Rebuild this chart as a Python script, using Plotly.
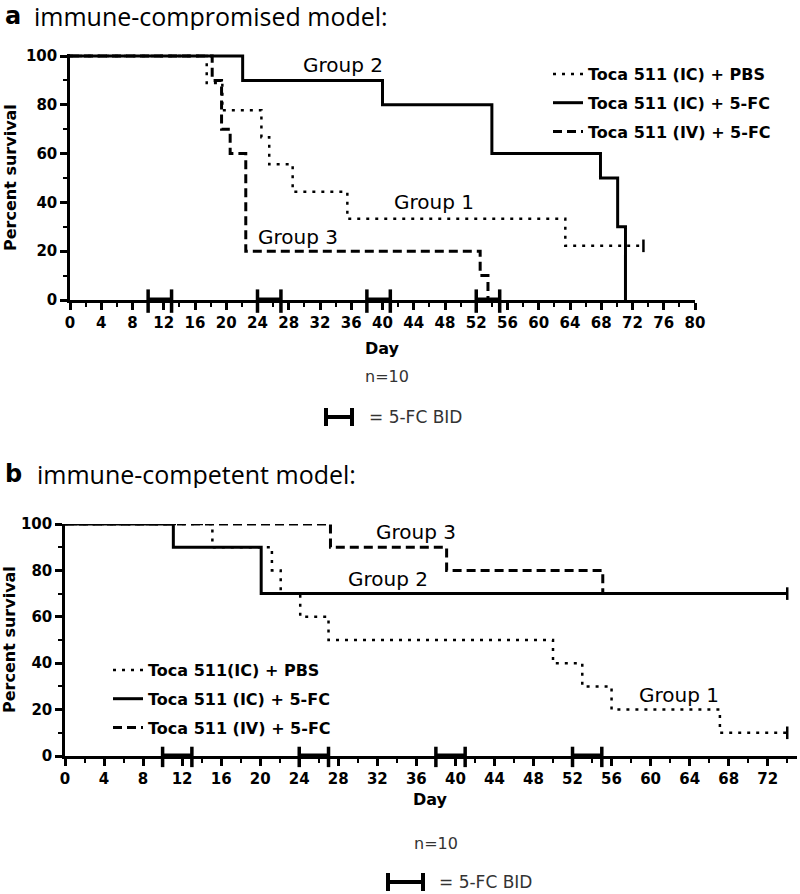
import plotly.graph_objects as go

W, H = 800, 894

# ---------------- Data: panel a (immune-compromised model) ----------------
A_G1_DAYS = [0, 17.5, 19.5, 24.5, 25.5, 28.5, 35.5, 63.4, 73.4]
A_G1_SURV = [100, 88.9, 77.8, 66.7, 55.6, 44.4, 33.3, 22.2, 22.2]
A_G2_DAYS = [0, 22.1, 40, 54, 67.9, 70.1, 71.1]
A_G2_SURV = [100, 90, 80, 60, 50, 30, 0]
A_G3_DAYS = [0, 18.2, 19.4, 20.5, 22.5, 52.5, 53.5]
A_G3_SURV = [100, 90, 70, 60, 20, 10, 0]
A_CENSOR_DAYS = [73.4]
A_CENSOR_SURV = [22.2]
A_NAMES = ["Toca 511 (IC) + PBS", "Toca 511 (IC) + 5-FC", "Toca 511 (IV) + 5-FC"]
A_GROUP_LABELS = [("Group 2", 35.0, 96.3), ("Group 1", 46.6, 40.2), ("Group 3", 29.2, 25.8)]

# ---------------- Data: panel b (immune-competent model) ----------------
B_G1_DAYS = [0, 15.1, 21.2, 22.1, 24.1, 27, 50, 53, 56, 67.1, 74]
B_G1_SURV = [100, 90, 80, 70, 60, 50, 40, 30, 20, 10, 10]
B_G2_DAYS = [0, 11.1, 20.1, 74]
B_G2_SURV = [100, 90, 70, 70]
B_G3_DAYS = [0, 27.2, 39.1, 55.1, 74]
B_G3_SURV = [100, 90, 80, 70, 70]
B_CENSOR_DAYS = [74, 74]
B_CENSOR_SURV = [10, 70]
B_NAMES = ["Toca 511(IC) + PBS", "Toca 511 (IC) + 5-FC", "Toca 511 (IV) + 5-FC"]
B_GROUP_LABELS = [("Group 3", 36.0, 96.6), ("Group 2", 33.1, 76.3), ("Group 1", 62.9, 26.3)]

# 5-FC BID dosing windows (days)
BID_WINDOWS = [(10, 13), (24, 27), (38, 41), (52, 55)]

# ---------------- Styles ----------------
STYLES = [
    dict(color="black", width=2.5, dash="3px,6px"),
    dict(color="black", width=3, dash="solid"),
    dict(color="black", width=3, dash="9px,5px"),
]
FONT = "DejaVu Sans"
TITLE_FONT = "Open Sans"


def px(x):
    return x / W


def py(y):
    return 1 - y / H


fig = go.Figure()


def add_panel(series, names, xa, ya, legend, prefix, cdays, csurv):
    for i, ((d, s), name) in enumerate(zip(series, names)):
        st = STYLES[i]
        fig.add_trace(go.Scatter(
            x=d, y=s, mode="lines", name=name,
            line=dict(shape="hv", color=st["color"], width=st["width"], dash=st["dash"]),
            xaxis=xa, yaxis=ya, legend=legend, legendgroup=prefix + str(i),
            hoverinfo="skip",
        ))
    fig.add_trace(go.Scatter(
        x=cdays, y=csurv, mode="markers", showlegend=False,
        marker=dict(symbol="line-ns", size=9, color="black",
                    line=dict(width=2.5, color="black")),
        xaxis=xa, yaxis=ya, cliponaxis=False, hoverinfo="skip",
    ))


add_panel([(A_G1_DAYS, A_G1_SURV), (A_G2_DAYS, A_G2_SURV), (A_G3_DAYS, A_G3_SURV)],
          A_NAMES, "x", "y", "legend", "a", A_CENSOR_DAYS, A_CENSOR_SURV)
add_panel([(B_G1_DAYS, B_G1_SURV), (B_G2_DAYS, B_G2_SURV), (B_G3_DAYS, B_G3_SURV)],
          B_NAMES, "x2", "y2", "legend2", "b", B_CENSOR_DAYS, B_CENSOR_SURV)

shapes = []
for xr, yr, up, down in [("x", "y domain", 0.043, -0.052), ("x2", "y2 domain", 0.040, -0.048)]:
    for a, b in BID_WINDOWS:
        shapes.append(dict(type="line", xref=xr, yref=yr, x0=a, x1=b, y0=0, y1=0,
                           line=dict(color="black", width=5)))
        for v in (a, b):
            shapes.append(dict(type="line", xref=xr, yref=yr, x0=v, x1=v, y0=down, y1=up,
                               line=dict(color="black", width=3.5)))

# legend keys for the "= 5-FC BID" note
for (x0, x1, yc) in [(326, 352, 417), (388, 423, 882)]:
    shapes.append(dict(type="line", xref="paper", yref="paper", x0=px(x0), x1=px(x1),
                       y0=py(yc), y1=py(yc), line=dict(color="black", width=4)))
    for xv in (x0, x1):
        shapes.append(dict(type="line", xref="paper", yref="paper", x0=px(xv), x1=px(xv),
                           y0=py(yc - 9), y1=py(yc + 9), line=dict(color="black", width=4)))

annotations = []
# panel titles
for letter, text, xl, xt, ytop in [("a", "immune-compromised model:", 3, 32, 0),
                                    ("b", "immune-competent model:", 3, 35, 458)]:
    annotations.append(dict(text="<b>" + letter + "</b>", x=px(xl), y=py(ytop), xref="paper", yref="paper",
                            xanchor="left", yanchor="top", showarrow=False, height=28, valign="middle",
                            font=dict(family="DejaVu Sans", size=24, color="black")))
    annotations.append(dict(text=text, x=px(xt), y=py(ytop), xref="paper", yref="paper",
                            xanchor="left", yanchor="top", showarrow=False, height=28, valign="middle",
                            font=dict(family=TITLE_FONT, size=25, color="black")))

# axis titles and notes
for (xc, yc_day, yc_n, ycy, xcy) in [(382, 348, 377, 178, 10), (431, 799, 843, 640, 9)]:
    annotations.append(dict(text="<b>Day</b>", x=px(xc), y=py(yc_day), xref="paper", yref="paper",
                            showarrow=False, xanchor="center", yanchor="middle",
                            font=dict(family=FONT, size=16, color="black")))
    annotations.append(dict(text="n=10", x=px(xc + 5), y=py(yc_n), xref="paper", yref="paper",
                            showarrow=False, xanchor="center", yanchor="middle",
                            font=dict(family=FONT, size=16, color="#333333")))
    annotations.append(dict(text="<b>Percent survival</b>", x=px(xcy), y=py(ycy), xref="paper",
                            yref="paper", showarrow=False, textangle=-90,
                            xanchor="center", yanchor="middle",
                            font=dict(family=FONT, size=16, color="black")))

annotations.append(dict(text="= 5-FC BID", x=px(367), y=py(417), xref="paper", yref="paper",
                        showarrow=False, xanchor="left", yanchor="middle",
                        font=dict(family=FONT, size=17, color="#333333")))
annotations.append(dict(text="= 5-FC BID", x=px(437), y=0, xref="paper", yref="paper",
                        showarrow=False, xanchor="left", yanchor="bottom",
                        font=dict(family=FONT, size=17, color="#333333")))

for labels, xr, yr in [(A_GROUP_LABELS, "x", "y"), (B_GROUP_LABELS, "x2", "y2")]:
    for text, xv, yv in labels:
        annotations.append(dict(text=text, x=xv, y=yv, xref=xr, yref=yr, showarrow=False,
                                xanchor="center", yanchor="middle",
                                font=dict(family=FONT, size=20, color="black")))

axis_common = dict(
    showline=True, linecolor="black", linewidth=2.5, mirror=False,
    ticks="outside", ticklen=7, tickwidth=2.5, tickcolor="black",
    showgrid=False, zeroline=False, fixedrange=True, automargin=False,
    tickfont=dict(family=FONT, size=15, color="black", weight="bold"),
)
minor_common = dict(ticks="outside", ticklen=4, tickwidth=2, tickcolor="black", showgrid=False)

A_PX_PER_PCT = (300 - 56) / 100
B_PX_PER_DAY = 9.76

fig.update_layout(
    width=W, height=H, margin=dict(l=0, r=0, t=0, b=0),
    paper_bgcolor="white", plot_bgcolor="white",
    xaxis=dict(axis_common, domain=[px(70), px(695)], range=[0, 80], dtick=4, tick0=0,
               minor=dict(minor_common, dtick=2), anchor="y"),
    yaxis=dict(axis_common, domain=[py(300), py(300 - 101 * A_PX_PER_PCT)], range=[0, 101],
               dtick=20, tick0=0, minor=dict(minor_common, dtick=10), anchor="x"),
    xaxis2=dict(axis_common, domain=[px(65), px(65 + 75 * B_PX_PER_DAY)], range=[0, 75],
                dtick=4, tick0=0, minor=dict(minor_common, dtick=2), anchor="y2"),
    yaxis2=dict(axis_common, domain=[py(756), py(524)], range=[0, 100],
                dtick=20, tick0=0, minor=dict(minor_common, dtick=10), anchor="x2"),
    legend=dict(x=px(548), y=py(57), xanchor="left", yanchor="top",
                font=dict(family=FONT, size=16, color="black", weight="bold"),
                bgcolor="rgba(0,0,0,0)", tracegroupgap=5, itemwidth=30),
    legend2=dict(x=px(108), y=py(653), xanchor="left", yanchor="top",
                 font=dict(family=FONT, size=16, color="black", weight="bold"),
                 bgcolor="rgba(0,0,0,0)", tracegroupgap=5, itemwidth=30),
    shapes=shapes, annotations=annotations,
)

# remove the default 8px body margin so the figure fills the 800x894 window exactly
fig.write_html("out.html", config={"displayModeBar": False},
               post_script="document.body.style.margin='0px';")
